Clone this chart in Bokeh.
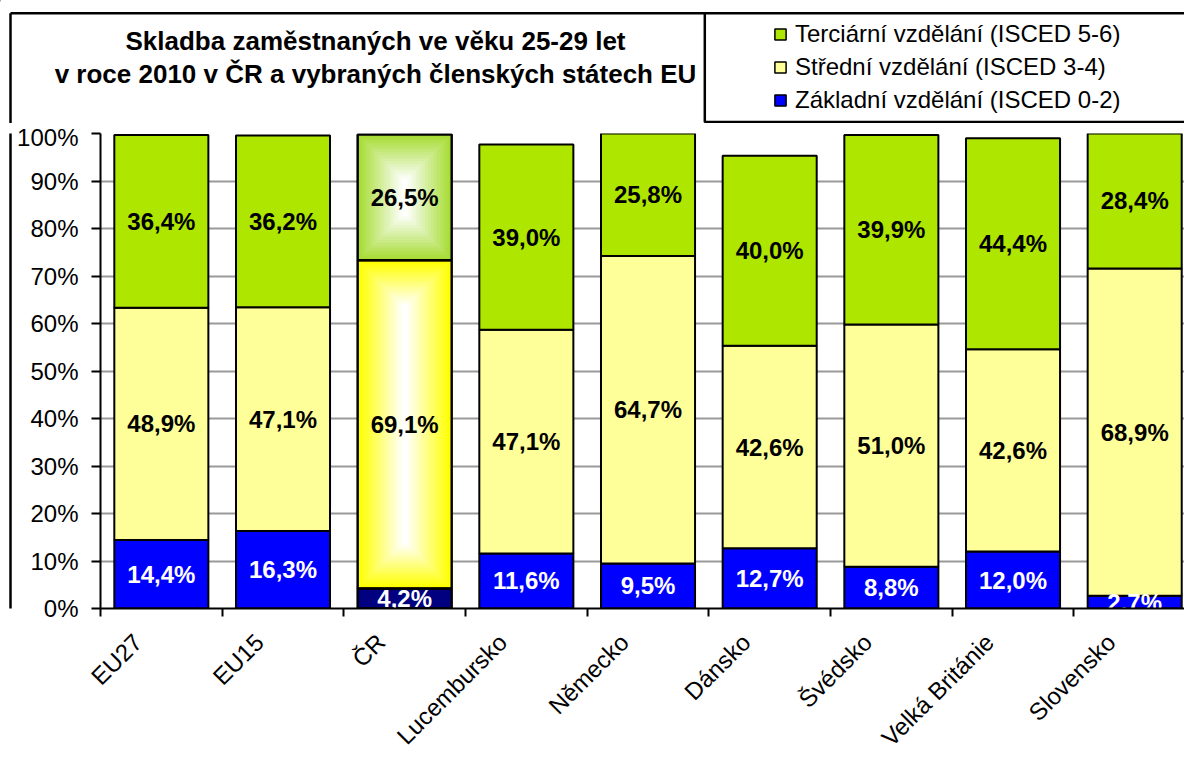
import numpy as np
from bokeh.plotting import figure
from bokeh.layouts import column, row
from bokeh.models import (Range1d, FixedTicker, LinearAxis, PrintfTickFormatter, Legend,
                          LegendItem, Grid)
from bokeh.core.properties import value
from bokeh.embed import file_html
from bokeh.resources import INLINE

# ---------------- data ----------------
countries = ["EU27", "EU15", "ČR", "Lucembursko", "Německo", "Dánsko",
             "Švédsko", "Velká Británie", "Slovensko"]
basic = [14.4, 16.3, 4.2, 11.6, 9.5, 12.7, 8.8, 12.0, 2.7]
secondary = [48.9, 47.1, 69.1, 47.1, 64.7, 42.6, 51.0, 42.6, 68.9]
tertiary = [36.4, 36.2, 26.5, 39.0, 25.8, 40.0, 39.9, 44.4, 28.4]
series_names = ["Základní vzdělání (ISCED 0-2)",
                "Střední vzdělání (ISCED 3-4)",
                "Terciární vzdělání (ISCED 5-6)"]
title_lines = ["Skladba zaměstnaných ve věku 25-29 let",
               "v roce 2010 v ČR a vybraných členských státech EU"]
y_ticks = list(range(0, 101, 10))
highlight = "ČR"

# ---------------- style / layout ----------------
FONT = "Liberation Sans"
PAGE_W, PAGE_H = 1184, 764
HEAD_H = 123                      # header strip (title + legend)
STRIP_W = 14                      # left strip carrying the chart border
MAIN_W, MAIN_H = PAGE_W - STRIP_W, PAGE_H - HEAD_H
ML, MT, MB, MR = 100 - STRIP_W, 133 - HEAD_H, 156, 0
FW, FH = MAIN_W - ML - MR, MAIN_H - MT - MB
CAT_PX = 121.67
X0 = 0.5
X1 = X0 + FW / CAT_PX
BAR_W = 0.773
BORDER_X, BORDER_Y = 10, 12.8

C_BASIC, C_SEC, C_TER = "#0000FF", "#FFFF99", "#AEE600"
C_BASIC_H, C_SEC_H, C_TER_H = "#000080", "#FFFF00", "#A6DC34"

n = len(countries)
xs = [i + 1 for i in range(n)]
k = countries.index(highlight)

b_sec = [basic[i] for i in range(n)]
b_ter = [basic[i] + secondary[i] for i in range(n)]
tops = [b_ter[i] + tertiary[i] for i in range(n)]

col_basic = [C_BASIC_H if c == highlight else C_BASIC for c in countries]
col_sec = [C_SEC_H if c == highlight else C_SEC for c in countries]
col_ter = [C_TER_H if c == highlight else C_TER for c in countries]

# ================= main chart =================
p = figure(width=MAIN_W, height=MAIN_H, x_range=Range1d(X0, X1), y_range=Range1d(0, 100),
           output_backend="svg", toolbar_location=None,
           min_border_left=ML, min_border_top=MT, min_border_bottom=MB, min_border_right=MR,
           x_axis_type=None, y_axis_type=None)
p.outline_line_color = None
p.background_fill_color = "white"
p.border_fill_color = "white"

yticker = FixedTicker(ticks=y_ticks, minor_ticks=[])
p.add_layout(Grid(dimension=1, ticker=yticker, grid_line_color="#9A9A9A", grid_line_width=2))

r_basic = p.vbar(x=xs, bottom=0, top=basic, width=BAR_W, fill_color=col_basic,
                 line_color="black", line_width=2)
r_sec = p.vbar(x=xs, bottom=b_sec, top=b_ter, width=BAR_W, fill_color=col_sec,
               line_color="black", line_width=2)
r_ter = p.vbar(x=xs, bottom=b_ter, top=tops, width=BAR_W, fill_color=col_ter,
               line_color="black", line_width=2)

def mix(c1, c2, t):
    a = [int(c1[i:i + 2], 16) for i in (1, 3, 5)]
    b = [int(c2[i:i + 2], 16) for i in (1, 3, 5)]
    return "#%02x%02x%02x" % tuple(int(round(a[j] + (b[j] - a[j]) * t)) for j in range(3))

# box gradient of the highlighted bar
sx = FW / (X1 - X0)
sy = FH / 100.0
N = 16
gx, gy, gw, gh, gc = [], [], [], [], []
for bottom, height, edge in [(b_sec[k], secondary[k], C_SEC_H), (b_ter[k], tertiary[k], C_TER_H)]:
    wpx, hpx = BAR_W * sx, height * sy
    dmax = min(wpx, hpx) / 2.0
    for i in range(1, N):
        d = dmax * i / N
        gx.append(xs[k]); gy.append(bottom + height / 2.0)
        gw.append((wpx - 2 * d) / sx); gh.append((hpx - 2 * d) / sy)
        gc.append(mix(edge, "#FFFFFF", i / (N - 1)))
p.rect(x=gx, y=gy, width=gw, height=gh, fill_color=gc, line_color=None)
p.vbar(x=[xs[k]] * 3, bottom=[0, b_sec[k], b_ter[k]], top=[b_sec[k], b_ter[k], tops[k]],
       width=BAR_W, fill_color=None, line_color="black", line_width=2)

def fmt(v):
    return ("%.1f" % v).replace(".", ",") + "%"

lx, ly, lt, lc = [], [], [], []
for i in range(n):
    for bot, v, c in [(0, basic[i], "white"), (b_sec[i], secondary[i], "black"),
                      (b_ter[i], tertiary[i], "black")]:
        lx.append(xs[i]); ly.append(bot + v / 2.0); lt.append(fmt(v)); lc.append(c)
p.text(x=lx, y=ly, text=lt, text_color=lc, text_align="center", text_baseline="middle",
       text_font=value(FONT), text_font_style="bold", text_font_size="24px")

PAD = "\u00a0" * 5
xaxis = LinearAxis(ticker=FixedTicker(ticks=xs, minor_ticks=[i + 0.5 for i in range(n + 1)]),
                   major_label_overrides={xs[i]: countries[i] + PAD for i in range(n)},
                   major_label_orientation=np.pi / 4,
                   major_tick_out=0, major_tick_in=0,
                   minor_tick_out=8, minor_tick_in=0, minor_tick_line_color="black",
                   minor_tick_line_width=2,
                   axis_line_color="black", axis_line_width=2,
                   major_label_standoff=-2,
                   major_label_text_font=FONT, major_label_text_font_size="24px",
                   major_label_text_color="black")
p.add_layout(xaxis, "below")

yaxis = LinearAxis(ticker=yticker, formatter=PrintfTickFormatter(format="%d%%"),
                   major_tick_out=9, major_tick_in=0, minor_tick_out=0, minor_tick_in=0,
                   major_tick_line_color="black", major_tick_line_width=2,
                   axis_line_color="black", axis_line_width=2,
                   major_label_standoff=13,
                   major_label_text_font=FONT, major_label_text_font_size="24px",
                   major_label_text_color="black")
p.add_layout(yaxis, "left")

# ================= header: chart border, title, legend =================
h = figure(width=PAGE_W, height=HEAD_H, x_range=Range1d(0, PAGE_W), y_range=Range1d(HEAD_H, 0),
           output_backend="svg", toolbar_location=None, min_border=0,
           min_border_left=0, min_border_right=0, min_border_top=0, min_border_bottom=0,
           x_axis_type=None, y_axis_type=None)
h.outline_line_color = None
h.grid.visible = False
h.segment(x0=[BORDER_X, BORDER_X], y0=[BORDER_Y, BORDER_Y], x1=[PAGE_W + 10, BORDER_X],
          y1=[BORDER_Y, HEAD_H + 5], line_color="black", line_width=2.5)
h.quad(left=[704.3], right=[PAGE_W + 20], top=[BORDER_Y], bottom=[121.5],
       fill_color="white", line_color="black", line_width=2.5)
h.text(x=[375, 375], y=[40, 73], text=title_lines, text_align="center", text_baseline="middle",
       text_font=value(FONT), text_font_style="bold", text_font_size="26px", text_color="black")

# legend swatches (zero-height proxies outside the header view)
lr_ter = h.vbar(x=[-100], bottom=[0], top=[0], width=1, fill_color=C_TER, line_color="black", line_width=1.5)
lr_sec = h.vbar(x=[-100], bottom=[0], top=[0], width=1, fill_color=C_SEC, line_color="black", line_width=1.5)
lr_bas = h.vbar(x=[-100], bottom=[0], top=[0], width=1, fill_color=C_BASIC, line_color="black", line_width=1.5)
legend = Legend(items=[LegendItem(label=series_names[2], renderers=[lr_ter]),
                       LegendItem(label=series_names[1], renderers=[lr_sec]),
                       LegendItem(label=series_names[0], renderers=[lr_bas])],
                location=(773, HEAD_H - 114), padding=0, margin=0, spacing=5,
                glyph_width=14, glyph_height=14, label_standoff=8,
                label_text_font=FONT, label_text_font_size="24px", label_text_color="black",
                border_line_color=None, background_fill_alpha=0)
h.add_layout(legend)

# ================= left strip: chart border continues =================
s = figure(width=STRIP_W, height=MAIN_H, x_range=Range1d(0, STRIP_W), y_range=Range1d(MAIN_H, 0),
           output_backend="svg", toolbar_location=None, min_border=0,
           min_border_left=0, min_border_right=0, min_border_top=0, min_border_bottom=0,
           x_axis_type=None, y_axis_type=None)
s.outline_line_color = None
s.grid.visible = False
s.segment(x0=[BORDER_X], y0=[-5], x1=[BORDER_X], y1=[MAIN_H + 5], line_color="black", line_width=2.5)

layout = column(h, row(s, p))
open("out.html", "w").write(file_html(layout, INLINE))
